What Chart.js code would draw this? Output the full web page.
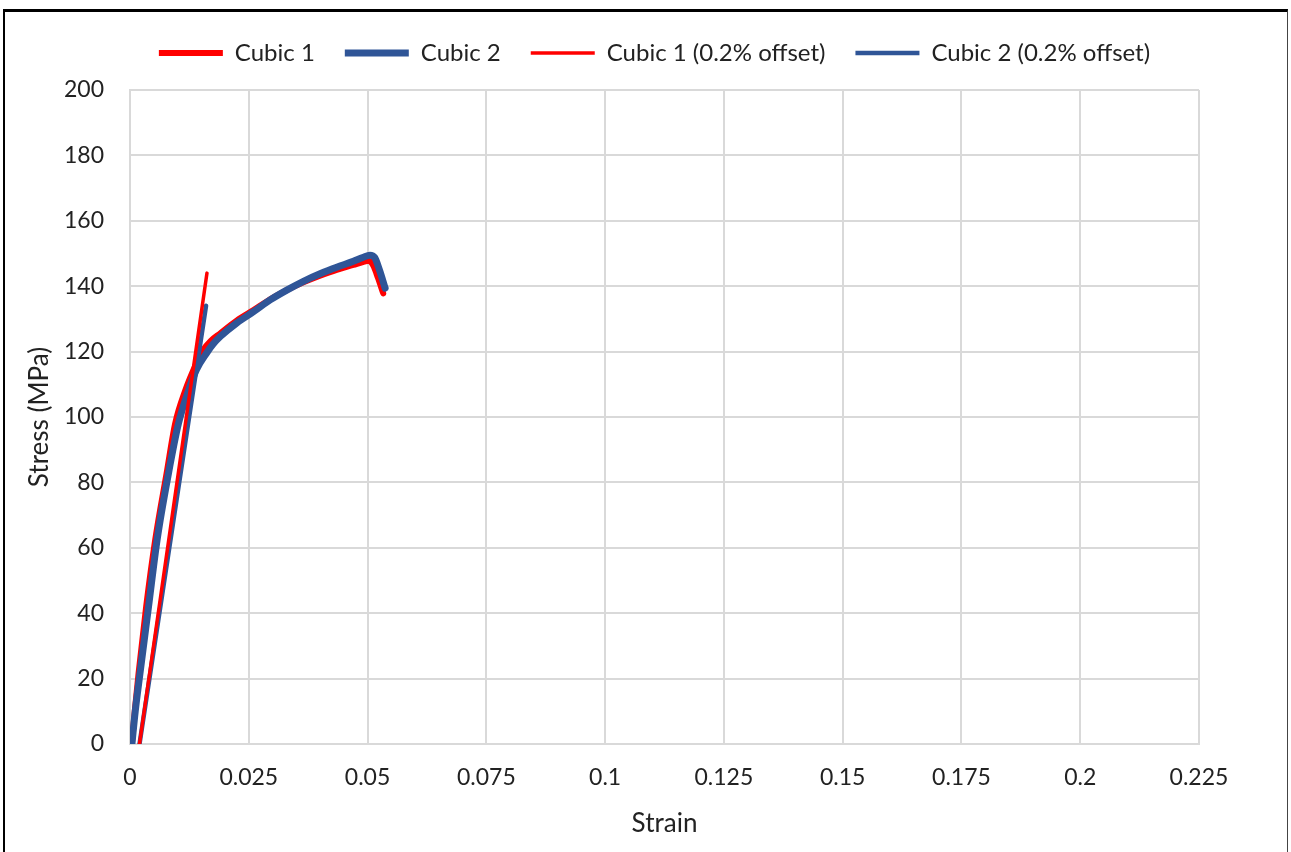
<!DOCTYPE html>
<html>
<head>
<meta charset="utf-8">
<script src="https://cdn.jsdelivr.net/npm/chart.js@4.4.1/dist/chart.umd.min.js"></script>
<style>
  html, body { margin: 0; padding: 0; background: #fff; }
  #wrap { position: relative; width: 1291px; height: 852px; overflow: hidden; }
  #frame { position: absolute; left: 3px; top: 9px; width: 1282px; height: 860px;
           border-left: 2px solid #000; border-top: 3px solid #000; border-right: 1px solid #444; }
  canvas { position: absolute; left: 0; top: 0; }
</style>
</head>
<body>
<div id="wrap">
  <canvas id="stressChart" width="1291" height="852"></canvas>
  <div id="frame"></div>
</div>
<script>
// Cubic 1 / Cubic 2 measured curves (strain, stress in MPa)
const strain1 = [0.0004, 0.0010, 0.0018, 0.0034, 0.0053, 0.0077, 0.0095, 0.0116, 0.0140, 0.0154, 0.0170, 0.0190, 0.0225, 0.0260, 0.0295, 0.0330, 0.0365, 0.0400, 0.0435, 0.0470, 0.0490, 0.0502, 0.0512, 0.0522, 0.0533];
const stress1 = [0, 10, 21.6, 42, 62.4, 82.8, 98, 108, 116.5, 120.5, 123.3, 125.6, 129.5, 132.7, 136, 138.8, 141.2, 143.2, 145, 146.5, 147.4, 147.8, 146.3, 142.5, 137.8];

const strain2 = [0.0004, 0.0011, 0.0021, 0.0039, 0.0057, 0.0081, 0.0102, 0.0123, 0.0140, 0.0161, 0.0175, 0.0190, 0.0225, 0.0260, 0.0295, 0.0330, 0.0365, 0.0400, 0.0435, 0.0470, 0.0490, 0.0505, 0.0515, 0.0525, 0.0537];
const stress2 = [0, 10, 21.6, 42, 62.4, 82.8, 98, 108, 114.5, 119.5, 122.3, 124.6, 128.8, 132.2, 135.8, 138.8, 141.5, 143.8, 145.8, 147.6, 148.8, 149.5, 148.8, 145, 139.4];

// 0.2% offset lines
const offsetStrain1 = [0.0020, 0.0162];
const offsetStress1 = [0, 144];
const offsetStrain2 = [0.0020, 0.0160];
const offsetStress2 = [0, 134];

// axis ticks
const xTicks = [0, 0.025, 0.05, 0.075, 0.1, 0.125, 0.15, 0.175, 0.2, 0.225];
const yTicks = [0, 20, 40, 60, 80, 100, 120, 140, 160, 180, 200];

const seriesNames = ["Cubic 1", "Cubic 2", "Cubic 1 (0.2% offset)", "Cubic 2 (0.2% offset)"];

const RED = "#ff0000";
const BLUE = "#2f5597";
const TEXT = "#222222";
const GRID = "#d9d9d9";

const toPoints = (xs, ys) => xs.map((x, i) => ({ x: x, y: ys[i] }));

const makeSet = (label, xs, ys, color, width, order) => ({
    label: label,
    data: toPoints(xs, ys),
    borderColor: color,
    backgroundColor: color,
    borderWidth: width,
    borderCapStyle: "round",
    borderJoinStyle: "round",
    showLine: true,
    pointRadius: 0,
    pointHoverRadius: 0,
    cubicInterpolationMode: "monotone",
    fill: false,
    order: order
});

const showChart = () => {
    const ctx = document.querySelector("#stressChart");

    new Chart(ctx, {
        type: "scatter",
        data: {
            datasets: [
                makeSet(seriesNames[0], strain1, stress1, RED, 6, 4),
                makeSet(seriesNames[1], strain2, stress2, BLUE, 7, 2),
                makeSet(seriesNames[2], offsetStrain1, offsetStress1, RED, 3.5, 1),
                makeSet(seriesNames[3], offsetStrain2, offsetStress2, BLUE, 4.5, 3)
            ]
        },
        options: {
            responsive: false,
            animation: false,
            layout: {
                padding: { top: 11, left: 18, right: 0, bottom: 0 }
            },
            plugins: {
                legend: {
                    position: "top",
                    labels: {
                        usePointStyle: true,
                        pointStyle: "line",
                        pointStyleWidth: 64,
                        padding: 30,
                        color: TEXT,
                        font: { family: "Lato", size: 24 },
                        sort: (a, b) => a.datasetIndex - b.datasetIndex
                    }
                },
                // empty spacer between the legend and the plot
                subtitle: {
                    display: true,
                    text: "",
                    weight: 500,
                    padding: 0,
                    font: { size: 15, lineHeight: 1 }
                },
                tooltip: { enabled: false }
            },
            scales: {
                x: {
                    type: "linear",
                    min: 0,
                    max: 0.225,
                    afterBuildTicks: (axis) => { axis.ticks = xTicks.map(v => ({ value: v })); },
                    afterFit: (axis) => { axis.height = 108; },
                    grid: { color: GRID, lineWidth: 2, drawTicks: false },
                    border: { color: GRID, width: 2 },
                    ticks: {
                        color: TEXT,
                        padding: 20,
                        maxRotation: 0,
                        font: { family: "Lato", size: 23 },
                        callback: (v) => String(Number(v.toFixed(3)))
                    },
                    title: {
                        display: true,
                        text: "Strain",
                        color: TEXT,
                        padding: { top: 0, bottom: 13 },
                        font: { family: "Lato", size: 26 }
                    }
                },
                y: {
                    min: 0,
                    max: 200,
                    afterBuildTicks: (axis) => { axis.ticks = yTicks.map(v => ({ value: v })); },
                    afterFit: (axis) => { axis.width = 112; },
                    grid: { color: GRID, lineWidth: 2, drawTicks: false },
                    border: { color: GRID, width: 2 },
                    ticks: {
                        color: TEXT,
                        padding: 26,
                        font: { family: "Lato", size: 23 }
                    },
                    title: {
                        display: true,
                        text: "Stress (MPa)",
                        color: TEXT,
                        padding: { top: 6, bottom: 0 },
                        font: { family: "Lato", size: 26 }
                    }
                },
                // empty right-hand gutter so the plot ends where the original does
                gutter: {
                    type: "linear",
                    position: "right",
                    display: true,
                    afterFit: (axis) => { axis.width = 92; },
                    grid: { display: false },
                    border: { display: false },
                    ticks: { display: false }
                }
            }
        }
    });
};

showChart();
</script>
</body>
</html>
